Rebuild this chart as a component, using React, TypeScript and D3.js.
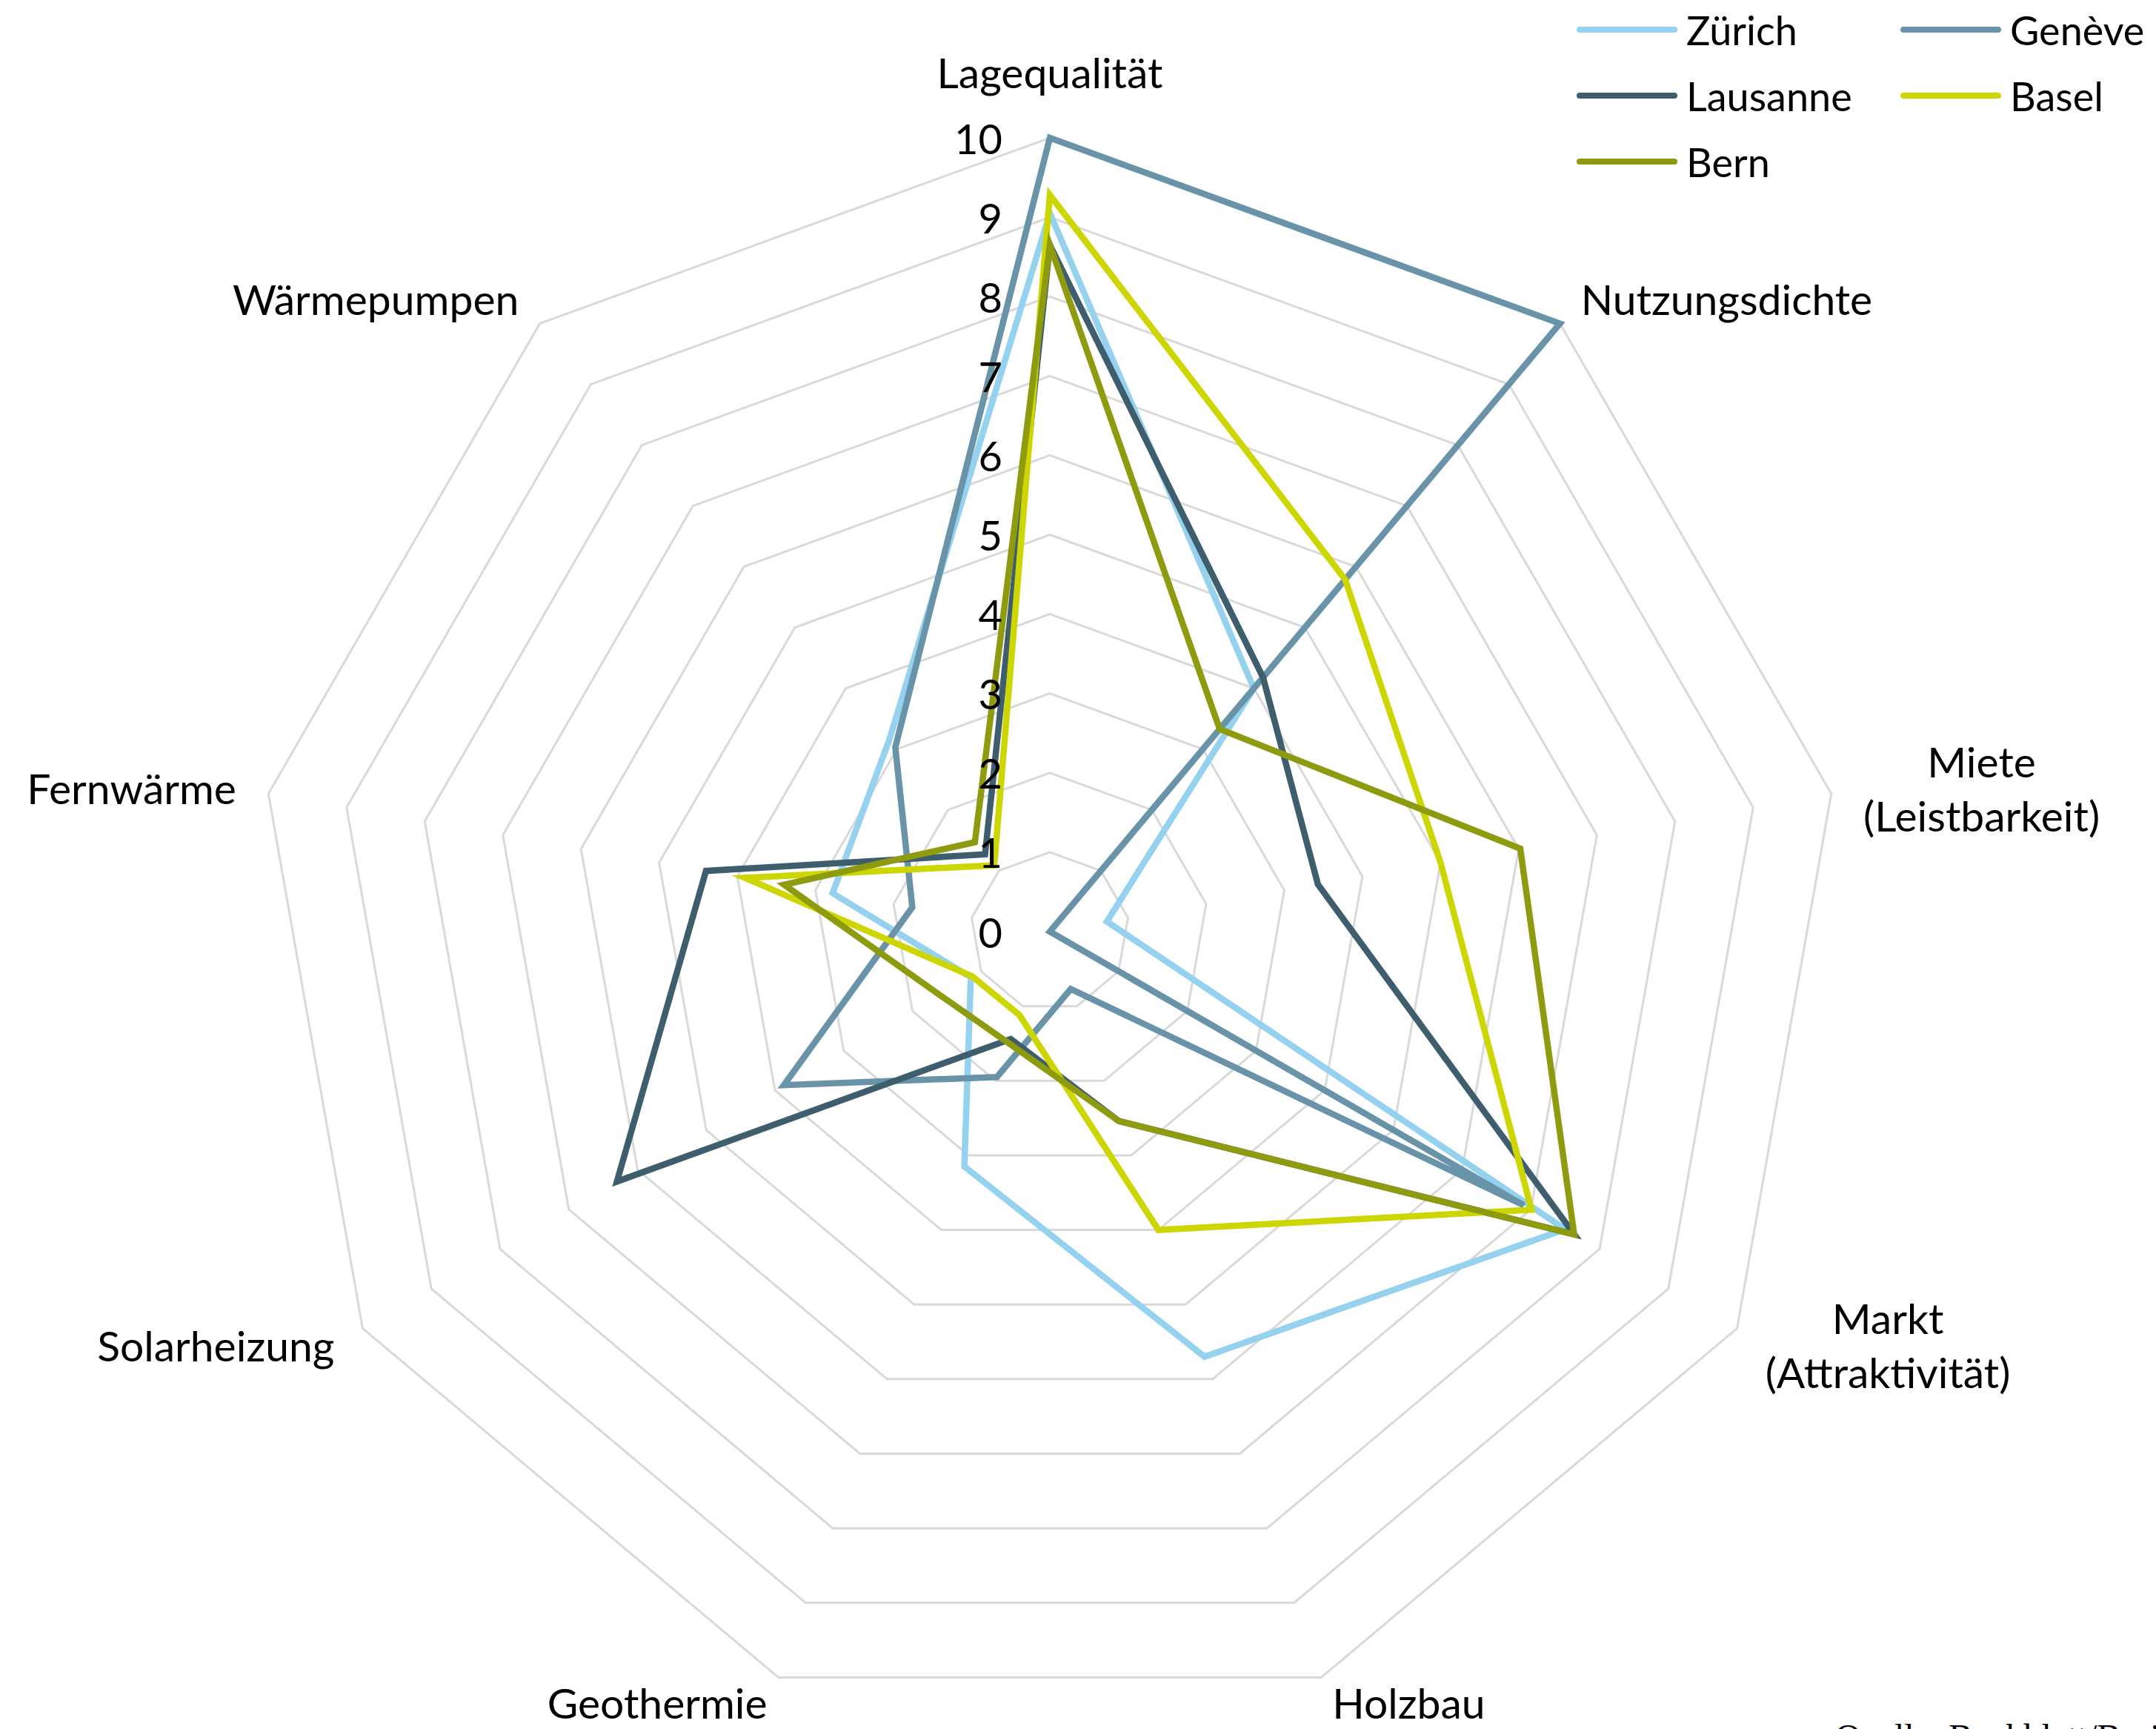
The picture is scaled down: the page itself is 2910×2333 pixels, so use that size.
import React, { useEffect, useRef } from "react";
import * as d3 from "d3";

const categories: string[][] = [
  ["Lagequalität"],
  ["Nutzungsdichte"],
  ["Miete", "(Leistbarkeit)"],
  ["Markt", "(Attraktivität)"],
  ["Holzbau"],
  ["Geothermie"],
  ["Solarheizung"],
  ["Fernwärme"],
  ["Wärmepumpen"],
];

const seriesNames = ["Zürich", "Genève", "Lausanne", "Basel", "Bern"];
const seriesColors = ["#94d2f0", "#6993a8", "#3e5d6d", "#cdd600", "#8e9b0e"];

const zurich = [9.05, 4.0, 0.73, 7.5, 5.7, 3.15, 1.15, 2.78, 3.15];
const geneve = [10, 10, 0, 6.9, 0.77, 1.95, 3.87, 1.76, 3.03];
const lausanne = [8.65, 4.18, 3.43, 7.63, 2.54, 1.44, 6.3, 4.4, 1.27];
const basel = [9.28, 5.79, 5.0, 7.01, 4.0, 1.12, 1.13, 3.9, 1.09];
const bern = [8.65, 3.33, 6.02, 7.63, 2.54, 1.5, 1.6, 3.4, 1.47];

const seriesValues = [zurich, geneve, lausanne, basel, bern];
const ticks = [0, 1, 2, 3, 4, 5, 6, 7, 8, 9, 10];
const sourceText = "Quelle: Buchblatt/Basis";

const W = 2910;
const H = 2333;
const CX = 1417;
const CY = 1257;
const R = 1071;
const FONT = "Lato, 'Open Sans', sans-serif";

export default function App() {
  const ref = useRef<SVGSVGElement | null>(null);

  useEffect(() => {
    const svg = d3.select(ref.current);
    svg.selectAll("*").remove();

    const n = categories.length;
    const r = d3.scaleLinear().domain([0, 10]).range([0, R]);
    const angle = (i: number) => (i * 2 * Math.PI) / n;

    const g = svg.append("g").attr("transform", `translate(${CX},${CY})`);

    const radial = d3
      .lineRadial<number>()
      .angle((_d, i) => angle(i))
      .radius((d) => r(d))
      .curve(d3.curveLinearClosed);

    // grid
    g.append("g")
      .selectAll("path")
      .data(ticks.filter((t) => t > 0))
      .join("path")
      .attr("d", (t) => radial(categories.map(() => t)) as string)
      .attr("fill", "none")
      .attr("stroke", "#d9d9d9")
      .attr("stroke-width", 3);

    // series
    g.append("g")
      .selectAll("path")
      .data(seriesValues)
      .join("path")
      .attr("d", (vals) => radial(vals) as string)
      .attr("fill", "none")
      .attr("stroke", (_d, i) => seriesColors[i])
      .attr("stroke-width", 8.5)
      .attr("stroke-linejoin", "miter")
      .attr("stroke-miterlimit", 6);

    // tick labels
    g.append("g")
      .selectAll("text")
      .data(ticks)
      .join("text")
      .attr("x", -64)
      .attr("y", (t) => -r(t))
      .attr("text-anchor", "end")
      .attr("dominant-baseline", "central")
      .attr("font-family", FONT)
      .attr("font-size", 56)
      .attr("fill", "#000")
      .text((t) => String(t));

    // category labels
    const LR = r(10) + 44;
    const lineH = 73;
    categories.forEach((lines, i) => {
      const a = angle(i);
      const s = Math.sin(a);
      const c = Math.cos(a);
      const ax = s * LR;
      const ay = -c * LR;
      const t = g
        .append("text")
        .attr("text-anchor", "middle")
        .attr("dominant-baseline", "central")
        .attr("font-family", FONT)
        .attr("font-size", 57)
        .attr("fill", "#000");
      lines.forEach((ln, k) => {
        t.append("tspan")
          .attr("x", 0)
          .attr("y", (k - (lines.length - 1) / 2) * lineH)
          .text(ln);
      });
      const bb = (t.node() as SVGTextElement).getBBox();
      let x = ax;
      let y = ay;
      if (Math.abs(s) < 0.05) {
        y = ay - 45;
      } else if (s > 0) {
        x = ax + bb.width / 2;
      } else {
        x = ax - bb.width / 2;
      }
      if (c < -0.9) y -= 8;
      t.attr("transform", `translate(${x},${y})`);
    });

    // legend
    const colX = [2128, 2565];
    const rowY = [40, 129, 218];
    const leg = svg.append("g");
    seriesNames.forEach((name, i) => {
      const x = colX[i % 2];
      const y = rowY[Math.floor(i / 2)];
      leg
        .append("line")
        .attr("x1", x + 4)
        .attr("x2", x + 132)
        .attr("y1", y)
        .attr("y2", y)
        .attr("stroke", seriesColors[i])
        .attr("stroke-width", 8)
        .attr("stroke-linecap", "round");
      leg
        .append("text")
        .attr("x", x + 148)
        .attr("y", y)
        .attr("dominant-baseline", "central")
        .attr("font-family", FONT)
        .attr("font-size", 54)
        .attr("fill", "#000")
        .text(name);
    });

    // source (cut off at bottom)
    svg
      .append("text")
      .attr("x", 2477)
      .attr("y", 2360)
      .attr("font-family", "'Liberation Serif', 'DejaVu Serif', serif")
      .attr("font-size", 48)
      .attr("fill", "#000")
      .text(sourceText);
  }, []);

  return (
    <svg
      ref={ref}
      width={W}
      height={H}
      viewBox={`0 0 ${W} ${H}`}
      style={{ position: "absolute", left: 0, top: 0, background: "#fff" }}
    />
  );
}
